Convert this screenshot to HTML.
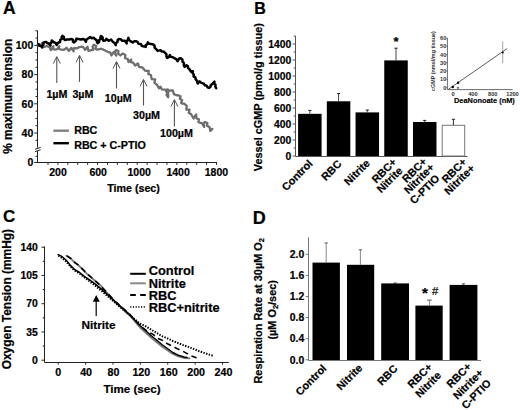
<!DOCTYPE html>
<html><head><meta charset="utf-8"><style>
html,body{margin:0;padding:0;background:#fff;}
svg{display:block;}
text{font-family:"Liberation Sans", sans-serif;stroke:#000;stroke-width:0.22px;}
</style></head><body>
<svg width="520" height="410" viewBox="0 0 520 410" font-family='"Liberation Sans", sans-serif'>
<text x="3.00" y="13.70" font-size="17.5" text-anchor="start" font-weight="bold" fill="#000" >A</text>
<line x1="37.50" y1="30.50" x2="37.50" y2="147.60" stroke="#222" stroke-width="1" />
<line x1="37.50" y1="151.00" x2="37.50" y2="163.00" stroke="#222" stroke-width="1" />
<line x1="35.00" y1="149.30" x2="40.60" y2="147.40" stroke="#222" stroke-width="1" />
<line x1="35.00" y1="151.70" x2="40.60" y2="149.80" stroke="#222" stroke-width="1" />
<line x1="35.50" y1="140.30" x2="37.50" y2="140.30" stroke="#222" stroke-width="1" />
<line x1="34.30" y1="133.00" x2="37.50" y2="133.00" stroke="#222" stroke-width="1" />
<line x1="35.50" y1="125.70" x2="37.50" y2="125.70" stroke="#222" stroke-width="1" />
<line x1="35.50" y1="118.40" x2="37.50" y2="118.40" stroke="#222" stroke-width="1" />
<line x1="35.50" y1="111.10" x2="37.50" y2="111.10" stroke="#222" stroke-width="1" />
<line x1="34.30" y1="103.80" x2="37.50" y2="103.80" stroke="#222" stroke-width="1" />
<line x1="35.50" y1="96.50" x2="37.50" y2="96.50" stroke="#222" stroke-width="1" />
<line x1="35.50" y1="89.20" x2="37.50" y2="89.20" stroke="#222" stroke-width="1" />
<line x1="35.50" y1="81.90" x2="37.50" y2="81.90" stroke="#222" stroke-width="1" />
<line x1="34.30" y1="74.60" x2="37.50" y2="74.60" stroke="#222" stroke-width="1" />
<line x1="35.50" y1="67.30" x2="37.50" y2="67.30" stroke="#222" stroke-width="1" />
<line x1="35.50" y1="60.00" x2="37.50" y2="60.00" stroke="#222" stroke-width="1" />
<line x1="35.50" y1="52.70" x2="37.50" y2="52.70" stroke="#222" stroke-width="1" />
<line x1="34.30" y1="45.40" x2="37.50" y2="45.40" stroke="#222" stroke-width="1" />
<line x1="35.50" y1="38.10" x2="37.50" y2="38.10" stroke="#222" stroke-width="1" />
<line x1="35.50" y1="30.80" x2="37.50" y2="30.80" stroke="#222" stroke-width="1" />
<line x1="35.50" y1="156.30" x2="37.50" y2="156.30" stroke="#222" stroke-width="1" />
<line x1="34.30" y1="162.50" x2="37.50" y2="162.50" stroke="#222" stroke-width="1" />
<text x="33.30" y="49.10" font-size="10.5" text-anchor="end" font-weight="bold" fill="#000" >100</text>
<text x="33.30" y="78.30" font-size="10.5" text-anchor="end" font-weight="bold" fill="#000" >80</text>
<text x="33.30" y="107.50" font-size="10.5" text-anchor="end" font-weight="bold" fill="#000" >60</text>
<text x="33.30" y="136.70" font-size="10.5" text-anchor="end" font-weight="bold" fill="#000" >40</text>
<text x="33.30" y="166.20" font-size="10.5" text-anchor="end" font-weight="bold" fill="#000" >0</text>
<line x1="37.00" y1="162.50" x2="217.00" y2="162.50" stroke="#222" stroke-width="1" />
<line x1="48.01" y1="162.50" x2="48.01" y2="164.80" stroke="#222" stroke-width="1" />
<line x1="57.92" y1="162.50" x2="57.92" y2="164.80" stroke="#222" stroke-width="1" />
<line x1="67.83" y1="162.50" x2="67.83" y2="164.80" stroke="#222" stroke-width="1" />
<line x1="77.74" y1="162.50" x2="77.74" y2="164.80" stroke="#222" stroke-width="1" />
<line x1="87.65" y1="162.50" x2="87.65" y2="164.80" stroke="#222" stroke-width="1" />
<line x1="97.56" y1="162.50" x2="97.56" y2="164.80" stroke="#222" stroke-width="1" />
<line x1="107.47" y1="162.50" x2="107.47" y2="164.80" stroke="#222" stroke-width="1" />
<line x1="117.38" y1="162.50" x2="117.38" y2="164.80" stroke="#222" stroke-width="1" />
<line x1="127.29" y1="162.50" x2="127.29" y2="164.80" stroke="#222" stroke-width="1" />
<line x1="137.20" y1="162.50" x2="137.20" y2="164.80" stroke="#222" stroke-width="1" />
<line x1="147.11" y1="162.50" x2="147.11" y2="164.80" stroke="#222" stroke-width="1" />
<line x1="157.02" y1="162.50" x2="157.02" y2="164.80" stroke="#222" stroke-width="1" />
<line x1="166.93" y1="162.50" x2="166.93" y2="164.80" stroke="#222" stroke-width="1" />
<line x1="176.84" y1="162.50" x2="176.84" y2="164.80" stroke="#222" stroke-width="1" />
<line x1="186.75" y1="162.50" x2="186.75" y2="164.80" stroke="#222" stroke-width="1" />
<line x1="196.66" y1="162.50" x2="196.66" y2="164.80" stroke="#222" stroke-width="1" />
<line x1="206.57" y1="162.50" x2="206.57" y2="164.80" stroke="#222" stroke-width="1" />
<line x1="216.48" y1="162.50" x2="216.48" y2="164.80" stroke="#222" stroke-width="1" />
<text x="58.00" y="176.20" font-size="10.5" text-anchor="middle" font-weight="bold" fill="#000" >200</text>
<text x="98.20" y="176.20" font-size="10.5" text-anchor="middle" font-weight="bold" fill="#000" >600</text>
<text x="139.20" y="176.20" font-size="10.5" text-anchor="middle" font-weight="bold" fill="#000" >1000</text>
<text x="178.10" y="176.20" font-size="10.5" text-anchor="middle" font-weight="bold" fill="#000" >1400</text>
<text x="216.40" y="176.20" font-size="10.5" text-anchor="middle" font-weight="bold" fill="#000" >1800</text>
<text x="107.20" y="192.40" font-size="10.7" text-anchor="start" font-weight="bold" fill="#000" >Time (sec)</text>
<text transform="translate(12.3,153.8) rotate(-90)" font-size="11.9" font-weight="bold">% maximum tension</text>
<polyline points="37.81,44.75 40.54,45.10 42.58,42.76 42.32,45.94 43.86,47.08 46.74,45.98 49.56,47.07 50.77,50.20 53.45,46.21 53.10,48.94 54.36,49.56 57.39,49.09 59.25,46.21 58.90,48.94 60.46,49.37 63.89,49.88 66.53,47.78 68.83,50.92 71.24,47.86 73.65,51.29 73.30,48.56 74.67,48.02 76.80,48.43 79.43,47.02 82.73,46.58 85.03,49.72 87.51,46.74 88.40,50.77 89.47,50.58 93.12,49.96 92.63,46.64 93.76,44.73 96.20,46.00 95.30,48.60 96.37,49.48 98.81,49.31 101.27,48.73 103.11,49.57 105.97,51.03 107.75,51.79 110.40,52.56 111.44,55.44 113.81,51.94 116.28,55.57 115.07,52.33 115.75,50.09 118.40,50.86 118.11,53.67 120.49,55.44 122.70,53.50 125.45,55.00 125.05,58.19 127.70,58.96 128.52,62.00 131.15,59.51 130.80,62.24 133.09,62.69 135.23,65.47 137.94,63.36 139.05,67.01 142.29,67.29 144.93,70.57 148.80,70.99 148.25,73.86 150.82,74.96 151.70,79.05 155.15,79.40 154.45,82.80 156.84,84.58 159.10,88.30 160.43,86.61 161.87,89.43 165.30,89.70 166.40,91.70 168.20,94.45 168.20,97.23 166.47,94.84 168.33,92.56 167.38,89.31 169.40,90.70 172.84,90.46 173.96,94.14 176.60,95.25 178.10,95.20 180.60,96.20 179.84,98.67 182.19,100.17 181.11,102.73 182.20,103.70 184.14,103.58 186.76,105.77 186.32,109.56 189.54,109.69 188.76,112.76 191.20,114.34 193.59,118.48 196.17,114.44 196.39,118.29 198.91,119.36 198.38,122.25 202.23,123.47 204.11,126.90 203.69,123.65 204.90,122.02 207.45,122.98 206.79,125.60 209.61,127.25 210.40,130.90 212.40,128.90" fill="none" stroke="#6e6e6e" stroke-width="2.3" stroke-linejoin="round" stroke-linecap="round" />
<polyline points="38.56,44.09 39.21,45.67 40.89,46.03 42.16,47.47 42.09,45.75 43.46,44.72 43.39,43.00 44.29,42.18 46.06,41.87 47.22,42.98 49.08,43.72 50.48,45.43 50.22,43.70 51.48,42.50 51.75,40.53 53.60,42.07 55.50,42.98 56.77,45.00 57.83,42.95 60.06,41.98 60.12,40.09 61.61,38.93 61.67,37.04 62.44,35.87 63.86,37.07 63.84,38.93 64.73,39.94 67.10,39.59 69.33,39.44 71.45,38.90 72.91,39.83 72.99,41.57 73.77,42.48 75.58,41.17 76.32,38.81 78.53,39.06 80.83,39.44 82.99,38.95 84.76,39.85 85.93,41.72 86.42,39.58 88.00,38.49 90.27,37.11 91.78,38.19 93.67,37.74 95.45,39.40 96.92,40.37 96.98,42.13 97.74,43.13 99.14,41.97 99.10,40.13 100.50,38.97 100.46,37.13 101.13,35.96 102.63,37.37 102.67,39.43 103.56,40.68 105.24,40.42 106.39,38.85 108.60,40.79 111.04,39.48 112.77,41.72 114.58,43.03 115.75,45.19 115.90,43.24 117.45,42.04 117.60,40.09 118.63,39.06 120.72,39.19 122.20,40.79 124.92,40.76 126.68,43.43 126.52,41.44 127.88,39.96 128.43,37.88 128.92,40.02 130.50,41.11 132.82,42.48 134.33,41.17 135.92,41.28 137.63,41.87 138.33,43.66 141.08,44.12 141.67,45.83 143.10,46.30 145.75,46.90 145.82,45.17 147.28,44.23 147.88,42.34 149.07,43.86 150.80,43.90 153.23,44.45 154.64,45.75 154.56,47.65 155.82,48.77 157.70,50.90 160.68,50.14 161.72,51.56 163.43,51.52 165.03,52.74 166.47,54.33 166.43,56.47 167.18,57.96 168.87,57.04 169.85,55.08 170.70,56.77 172.40,57.11 174.78,58.44 176.47,59.36 177.48,61.28 179.17,58.52 181.03,58.36 182.47,59.64 182.43,61.56 183.88,62.87 183.82,65.23 184.61,66.92 186.54,65.28 187.96,66.32 187.94,68.08 189.28,69.02 191.10,71.80 192.88,71.29 192.58,73.11 193.82,74.49 193.58,76.44 195.27,77.36 195.62,79.13 197.08,80.97 197.62,83.53 199.63,81.42 201.28,82.83 203.84,83.58 204.76,85.27 206.64,85.68 207.56,87.37 208.87,87.88 210.47,86.92 210.73,85.08 212.28,84.18 214.48,81.67 214.25,83.50 215.53,84.82 215.30,86.65 216.20,88.10" fill="none" stroke="#000" stroke-width="2.5" stroke-linejoin="round" stroke-linecap="round" />
<line x1="56.80" y1="57.10" x2="56.80" y2="83.10" stroke="#555" stroke-width="1.1" />
<polyline points="53.30,63.60 56.80,56.60 60.30,63.60" fill="none" stroke="#555" stroke-width="1.0" stroke-linejoin="round" stroke-linecap="butt" />
<line x1="79.50" y1="55.90" x2="79.50" y2="81.90" stroke="#555" stroke-width="1.1" />
<polyline points="76.00,62.40 79.50,55.40 83.00,62.40" fill="none" stroke="#555" stroke-width="1.0" stroke-linejoin="round" stroke-linecap="butt" />
<line x1="116.50" y1="62.10" x2="116.50" y2="88.40" stroke="#555" stroke-width="1.1" />
<polyline points="113.00,68.60 116.50,61.60 120.00,68.60" fill="none" stroke="#555" stroke-width="1.0" stroke-linejoin="round" stroke-linecap="butt" />
<line x1="143.50" y1="79.90" x2="143.50" y2="105.50" stroke="#555" stroke-width="1.1" />
<polyline points="140.00,86.40 143.50,79.40 147.00,86.40" fill="none" stroke="#555" stroke-width="1.0" stroke-linejoin="round" stroke-linecap="butt" />
<line x1="174.40" y1="100.10" x2="174.40" y2="126.50" stroke="#555" stroke-width="1.1" />
<polyline points="170.90,106.60 174.40,99.60 177.90,106.60" fill="none" stroke="#555" stroke-width="1.0" stroke-linejoin="round" stroke-linecap="butt" />
<text x="46.40" y="97.60" font-size="10.7" text-anchor="start" font-weight="bold" fill="#000" >1µM</text>
<text x="72.40" y="97.60" font-size="10.7" text-anchor="start" font-weight="bold" fill="#000" >3µM</text>
<text x="104.80" y="102.00" font-size="10.7" text-anchor="start" font-weight="bold" fill="#000" >10µM</text>
<text x="133.00" y="118.80" font-size="10.7" text-anchor="start" font-weight="bold" fill="#000" >30µM</text>
<text x="160.00" y="136.80" font-size="10.7" text-anchor="start" font-weight="bold" fill="#000" >100µM</text>
<line x1="53.40" y1="130.70" x2="68.90" y2="130.70" stroke="#808080" stroke-width="2.4" />
<line x1="53.40" y1="143.20" x2="68.90" y2="143.20" stroke="#000" stroke-width="2.4" />
<text x="74.20" y="134.30" font-size="10.7" text-anchor="start" font-weight="bold" fill="#000" >RBC</text>
<text x="74.20" y="148.50" font-size="10.7" text-anchor="start" font-weight="bold" fill="#000" >RBC + C-PTIO</text>
<text x="254.30" y="13.70" font-size="16.0" text-anchor="start" font-weight="bold" fill="#000" >B</text>
<line x1="295.50" y1="36.00" x2="295.50" y2="156.50" stroke="#555" stroke-width="1" />
<line x1="292.70" y1="156.00" x2="295.50" y2="156.00" stroke="#555" stroke-width="1" />
<line x1="293.70" y1="148.00" x2="295.50" y2="148.00" stroke="#555" stroke-width="1" />
<line x1="292.70" y1="140.00" x2="295.50" y2="140.00" stroke="#555" stroke-width="1" />
<line x1="293.70" y1="132.00" x2="295.50" y2="132.00" stroke="#555" stroke-width="1" />
<line x1="292.70" y1="124.00" x2="295.50" y2="124.00" stroke="#555" stroke-width="1" />
<line x1="293.70" y1="116.00" x2="295.50" y2="116.00" stroke="#555" stroke-width="1" />
<line x1="292.70" y1="108.00" x2="295.50" y2="108.00" stroke="#555" stroke-width="1" />
<line x1="293.70" y1="100.00" x2="295.50" y2="100.00" stroke="#555" stroke-width="1" />
<line x1="292.70" y1="92.00" x2="295.50" y2="92.00" stroke="#555" stroke-width="1" />
<line x1="293.70" y1="84.00" x2="295.50" y2="84.00" stroke="#555" stroke-width="1" />
<line x1="292.70" y1="76.00" x2="295.50" y2="76.00" stroke="#555" stroke-width="1" />
<line x1="293.70" y1="68.00" x2="295.50" y2="68.00" stroke="#555" stroke-width="1" />
<line x1="292.70" y1="60.00" x2="295.50" y2="60.00" stroke="#555" stroke-width="1" />
<line x1="293.70" y1="52.00" x2="295.50" y2="52.00" stroke="#555" stroke-width="1" />
<line x1="292.70" y1="44.00" x2="295.50" y2="44.00" stroke="#555" stroke-width="1" />
<line x1="293.70" y1="36.00" x2="295.50" y2="36.00" stroke="#555" stroke-width="1" />
<text x="291.20" y="159.60" font-size="10.3" text-anchor="end" font-weight="bold" fill="#000" >0</text>
<text x="291.20" y="143.60" font-size="10.3" text-anchor="end" font-weight="bold" fill="#000" >200</text>
<text x="291.20" y="127.60" font-size="10.3" text-anchor="end" font-weight="bold" fill="#000" >400</text>
<text x="291.20" y="111.60" font-size="10.3" text-anchor="end" font-weight="bold" fill="#000" >600</text>
<text x="291.20" y="95.60" font-size="10.3" text-anchor="end" font-weight="bold" fill="#000" >800</text>
<text x="291.20" y="79.60" font-size="10.3" text-anchor="end" font-weight="bold" fill="#000" >1000</text>
<text x="291.20" y="63.60" font-size="10.3" text-anchor="end" font-weight="bold" fill="#000" >1200</text>
<text x="291.20" y="47.60" font-size="10.3" text-anchor="end" font-weight="bold" fill="#000" >1400</text>
<line x1="295.50" y1="156.50" x2="467.60" y2="156.50" stroke="#555" stroke-width="1" />
<text transform="translate(262.3,171.2) rotate(-90)" font-size="10.9" font-weight="bold">Vessel cGMP (pmol/g tissue)</text>
<line x1="309.85" y1="110.40" x2="309.85" y2="113.84" stroke="#444" stroke-width="1.0" />
<line x1="308.25" y1="110.40" x2="311.45" y2="110.40" stroke="#222" stroke-width="1.0" />
<rect x="298.10" y="113.84" width="23.50" height="42.16" fill="#000" stroke="none" stroke-width="0"/>
<line x1="338.57" y1="93.60" x2="338.57" y2="101.28" stroke="#444" stroke-width="1.0" />
<line x1="336.97" y1="93.60" x2="340.17" y2="93.60" stroke="#222" stroke-width="1.0" />
<rect x="326.82" y="101.28" width="23.50" height="54.72" fill="#000" stroke="none" stroke-width="0"/>
<line x1="367.29" y1="110.00" x2="367.29" y2="112.40" stroke="#444" stroke-width="1.0" />
<line x1="365.69" y1="110.00" x2="368.89" y2="110.00" stroke="#222" stroke-width="1.0" />
<rect x="355.54" y="112.40" width="23.50" height="43.60" fill="#000" stroke="none" stroke-width="0"/>
<line x1="396.01" y1="48.20" x2="396.01" y2="60.40" stroke="#444" stroke-width="1.0" />
<line x1="394.41" y1="48.20" x2="397.61" y2="48.20" stroke="#222" stroke-width="1.0" />
<rect x="384.26" y="60.40" width="23.50" height="95.60" fill="#000" stroke="none" stroke-width="0"/>
<line x1="424.73" y1="120.40" x2="424.73" y2="122.00" stroke="#444" stroke-width="1.0" />
<line x1="423.13" y1="120.40" x2="426.33" y2="120.40" stroke="#222" stroke-width="1.0" />
<rect x="412.98" y="122.00" width="23.50" height="34.00" fill="#000" stroke="none" stroke-width="0"/>
<line x1="453.45" y1="119.30" x2="453.45" y2="125.28" stroke="#444" stroke-width="1.0" />
<line x1="451.85" y1="119.30" x2="455.05" y2="119.30" stroke="#222" stroke-width="1.0" />
<rect x="442.20" y="125.28" width="22.50" height="30.72" fill="#fff" stroke="#777" stroke-width="1"/>
<line x1="453.45" y1="119.30" x2="453.45" y2="125.28" stroke="#444" stroke-width="1.0" />
<text x="396.00" y="46.00" font-size="13" text-anchor="middle" font-weight="bold" fill="#000" >*</text>
<text transform="translate(313.35,164.25) rotate(-45)" font-size="10.8" font-weight="bold" text-anchor="end">Control</text>
<text transform="translate(342.20,164.60) rotate(-45)" font-size="10.8" font-weight="bold" text-anchor="end">RBC</text>
<text transform="translate(370.60,163.90) rotate(-45)" font-size="10.8" font-weight="bold" text-anchor="end">Nitrite</text>
<text transform="translate(397.20,162.85) rotate(-45)" font-size="10.8" font-weight="bold" text-anchor="end">RBC+</text>
<text transform="translate(403.20,171.40) rotate(-45)" font-size="10.8" font-weight="bold" text-anchor="end">Nitrite</text>
<text transform="translate(427.50,162.20) rotate(-45)" font-size="10.8" font-weight="bold" text-anchor="end">RBC+</text>
<text transform="translate(435.00,168.10) rotate(-45)" font-size="10.8" font-weight="bold" text-anchor="end">Nitrite+</text>
<text transform="translate(440.25,178.95) rotate(-45)" font-size="10.8" font-weight="bold" text-anchor="end">C-PTIO</text>
<text transform="translate(467.20,162.65) rotate(-45)" font-size="10.8" font-weight="bold" text-anchor="end">RBC+</text>
<text transform="translate(475.35,168.95) rotate(-45)" font-size="10.8" font-weight="bold" text-anchor="end">Nitrite+</text>
<line x1="447.40" y1="37.90" x2="447.40" y2="89.60" stroke="#444" stroke-width="0.8" />
<line x1="447.40" y1="89.60" x2="512.50" y2="89.60" stroke="#444" stroke-width="0.8" />
<line x1="446.20" y1="87.60" x2="447.40" y2="87.60" stroke="#444" stroke-width="0.6" />
<text x="446.30" y="89.60" font-size="5.6" text-anchor="end" font-weight="bold" fill="#333" style="stroke-width:0">0</text>
<line x1="446.20" y1="79.35" x2="447.40" y2="79.35" stroke="#444" stroke-width="0.6" />
<text x="446.30" y="81.35" font-size="5.6" text-anchor="end" font-weight="bold" fill="#333" style="stroke-width:0">10</text>
<line x1="446.20" y1="71.10" x2="447.40" y2="71.10" stroke="#444" stroke-width="0.6" />
<text x="446.30" y="73.10" font-size="5.6" text-anchor="end" font-weight="bold" fill="#333" style="stroke-width:0">20</text>
<line x1="446.20" y1="62.85" x2="447.40" y2="62.85" stroke="#444" stroke-width="0.6" />
<text x="446.30" y="64.85" font-size="5.6" text-anchor="end" font-weight="bold" fill="#333" style="stroke-width:0">30</text>
<line x1="446.20" y1="54.60" x2="447.40" y2="54.60" stroke="#444" stroke-width="0.6" />
<text x="446.30" y="56.60" font-size="5.6" text-anchor="end" font-weight="bold" fill="#333" style="stroke-width:0">40</text>
<line x1="446.20" y1="46.35" x2="447.40" y2="46.35" stroke="#444" stroke-width="0.6" />
<text x="446.30" y="48.35" font-size="5.6" text-anchor="end" font-weight="bold" fill="#333" style="stroke-width:0">50</text>
<line x1="446.20" y1="38.10" x2="447.40" y2="38.10" stroke="#444" stroke-width="0.6" />
<text x="446.30" y="40.10" font-size="5.6" text-anchor="end" font-weight="bold" fill="#333" style="stroke-width:0">60</text>
<line x1="452.80" y1="89.60" x2="452.80" y2="90.40" stroke="#666" stroke-width="0.5" />
<text x="453.10" y="95.50" font-size="5.6" text-anchor="middle" font-weight="bold" fill="#333" style="stroke-width:0">0</text>
<line x1="472.60" y1="89.60" x2="472.60" y2="90.40" stroke="#666" stroke-width="0.5" />
<text x="472.90" y="95.50" font-size="5.6" text-anchor="middle" font-weight="bold" fill="#333" style="stroke-width:0">400</text>
<line x1="492.40" y1="89.60" x2="492.40" y2="90.40" stroke="#666" stroke-width="0.5" />
<text x="492.70" y="95.50" font-size="5.6" text-anchor="middle" font-weight="bold" fill="#333" style="stroke-width:0">800</text>
<line x1="512.20" y1="89.60" x2="512.20" y2="90.40" stroke="#666" stroke-width="0.5" />
<text x="512.50" y="95.50" font-size="5.6" text-anchor="middle" font-weight="bold" fill="#333" style="stroke-width:0">1200</text>
<text x="454.00" y="103.30" font-size="7.4" text-anchor="start" font-weight="bold" fill="#000" style="stroke-width:0.15px">DeaNonoate (nM)</text>
<text transform="translate(435.2,91.0) rotate(-90)" font-size="5.4" font-weight="bold" fill="#333" style="stroke-width:0">cGMP (nmol/mg tissue)</text>
<line x1="448.40" y1="89.30" x2="507.10" y2="48.60" stroke="#333" stroke-width="0.8" />
<line x1="502.70" y1="41.40" x2="502.70" y2="63.30" stroke="#666" stroke-width="0.6" />
<circle cx="452.8" cy="87.0" r="1.2" fill="#000"/>
<circle cx="458.1" cy="82.8" r="1.2" fill="#000"/>
<circle cx="502.7" cy="52.4" r="1.0" fill="#000"/>
<text x="457.90" y="88.50" font-size="4" text-anchor="middle" font-weight="normal" fill="#777" >×</text>
<text x="3.00" y="222.00" font-size="17.0" text-anchor="start" font-weight="bold" fill="#000" >C</text>
<line x1="44.50" y1="246.50" x2="44.50" y2="362.50" stroke="#222" stroke-width="1" />
<line x1="41.50" y1="360.20" x2="44.50" y2="360.20" stroke="#222" stroke-width="1" />
<line x1="42.70" y1="346.08" x2="44.50" y2="346.08" stroke="#222" stroke-width="1" />
<line x1="41.50" y1="331.95" x2="44.50" y2="331.95" stroke="#222" stroke-width="1" />
<line x1="42.70" y1="317.83" x2="44.50" y2="317.83" stroke="#222" stroke-width="1" />
<line x1="41.50" y1="303.71" x2="44.50" y2="303.71" stroke="#222" stroke-width="1" />
<line x1="42.70" y1="289.59" x2="44.50" y2="289.59" stroke="#222" stroke-width="1" />
<line x1="41.50" y1="275.46" x2="44.50" y2="275.46" stroke="#222" stroke-width="1" />
<line x1="42.70" y1="261.34" x2="44.50" y2="261.34" stroke="#222" stroke-width="1" />
<line x1="41.50" y1="247.22" x2="44.50" y2="247.22" stroke="#222" stroke-width="1" />
<text x="37.80" y="363.90" font-size="10.4" text-anchor="end" font-weight="bold" fill="#000" >0</text>
<text x="37.80" y="335.65" font-size="10.4" text-anchor="end" font-weight="bold" fill="#000" >35</text>
<text x="37.80" y="307.41" font-size="10.4" text-anchor="end" font-weight="bold" fill="#000" >70</text>
<text x="37.80" y="279.16" font-size="10.4" text-anchor="end" font-weight="bold" fill="#000" >105</text>
<text x="37.80" y="250.92" font-size="10.4" text-anchor="end" font-weight="bold" fill="#000" >140</text>
<line x1="44.50" y1="362.50" x2="228.80" y2="362.50" stroke="#222" stroke-width="1" />
<line x1="58.20" y1="362.50" x2="58.20" y2="364.60" stroke="#222" stroke-width="1" />
<text x="58.20" y="376.20" font-size="10.7" text-anchor="middle" font-weight="bold" fill="#000" >0</text>
<line x1="85.58" y1="362.50" x2="85.58" y2="364.60" stroke="#222" stroke-width="1" />
<text x="86.08" y="376.20" font-size="10.7" text-anchor="middle" font-weight="bold" fill="#000" >40</text>
<line x1="112.97" y1="362.50" x2="112.97" y2="364.60" stroke="#222" stroke-width="1" />
<text x="113.47" y="376.20" font-size="10.7" text-anchor="middle" font-weight="bold" fill="#000" >80</text>
<line x1="140.35" y1="362.50" x2="140.35" y2="364.60" stroke="#222" stroke-width="1" />
<text x="141.35" y="376.20" font-size="10.7" text-anchor="middle" font-weight="bold" fill="#000" >120</text>
<line x1="167.74" y1="362.50" x2="167.74" y2="364.60" stroke="#222" stroke-width="1" />
<text x="168.74" y="376.20" font-size="10.7" text-anchor="middle" font-weight="bold" fill="#000" >160</text>
<line x1="195.12" y1="362.50" x2="195.12" y2="364.60" stroke="#222" stroke-width="1" />
<text x="196.12" y="376.20" font-size="10.7" text-anchor="middle" font-weight="bold" fill="#000" >200</text>
<line x1="222.50" y1="362.50" x2="222.50" y2="364.60" stroke="#222" stroke-width="1" />
<text x="223.50" y="376.20" font-size="10.7" text-anchor="middle" font-weight="bold" fill="#000" >240</text>
<text x="103.40" y="392.60" font-size="11.6" text-anchor="start" font-weight="bold" fill="#000" >Time (sec)</text>
<text transform="translate(11.2,369.3) rotate(-90)" font-size="11.95" font-weight="bold">Oxygen Tension (mmHg)</text>
<polyline points="66.30,255.60 70.40,258.20 74.50,262.30 78.60,265.40 82.70,269.50 86.80,273.60 90.90,277.20 95.00,280.70 101.10,285.90 114.60,301.50 129.30,315.00 140.00,327.50 151.00,337.50 161.90,346.50 172.90,354.00 178.40,356.50 183.90,358.00 189.60,358.40" fill="none" stroke="#7a7a7a" stroke-width="1.8" stroke-linejoin="round" stroke-linecap="round" />
<polyline points="58.10,254.60 62.20,256.70 66.30,260.20 70.40,265.40 74.50,269.50 79.60,272.50 84.70,276.60 89.90,280.20 95.00,283.80 101.10,288.90 114.60,301.10 129.30,314.30 140.00,325.50 151.00,335.50 161.90,344.50 172.90,352.50 178.40,355.30 183.90,357.00 187.00,357.60" fill="none" stroke="#000" stroke-width="1.5" stroke-linejoin="round" stroke-linecap="round" />
<polyline points="66.80,255.80 70.90,258.50 75.00,262.60 79.10,265.70 83.20,269.80 87.30,273.90 91.40,277.50 95.50,281.00 101.10,286.50 114.60,300.80 129.30,313.80 140.00,325.70 148.80,332.30 153.20,334.40 157.50,338.30 163.00,340.50 167.40,343.80 172.90,346.50 177.30,348.70 182.20,350.90 187.20,353.60 191.50,356.00 196.30,357.70 200.70,358.10" fill="none" stroke="#000" stroke-width="1.6" stroke-linejoin="round" stroke-linecap="butt" stroke-dasharray="5.5,4"/>
<polyline points="58.50,255.50 66.30,261.50 70.40,266.50 74.50,270.50 79.60,273.50 84.70,277.60 89.90,281.50 95.00,285.50 101.10,290.50 114.60,302.20 129.30,314.80 140.00,323.60 145.50,326.20 151.00,329.50 156.40,332.80 161.90,336.10 167.40,338.30 172.90,341.00 178.40,343.20 183.90,345.40 189.60,347.30 199.20,351.20 208.80,354.50 213.70,356.00" fill="none" stroke="#000" stroke-width="2.0" stroke-linejoin="round" stroke-linecap="butt" stroke-dasharray="1.4,1.4"/>
<line x1="96.20" y1="300.00" x2="96.20" y2="315.90" stroke="#000" stroke-width="1.2" />
<polygon points="96.2,295.1 92.8,301.8 99.8,301.8" fill="#000"/>
<text x="81.50" y="328.60" font-size="11.8" text-anchor="start" font-weight="bold" fill="#000" >Nitrite</text>
<line x1="130.20" y1="273.80" x2="145.80" y2="273.80" stroke="#000" stroke-width="2.0" />
<line x1="130.20" y1="283.30" x2="145.80" y2="283.30" stroke="#888" stroke-width="2.0" />
<line x1="130.20" y1="294.90" x2="145.80" y2="294.90" stroke="#000" stroke-width="2.0" stroke-dasharray="5.6,4.4"/>
<line x1="130.20" y1="307.00" x2="145.80" y2="307.00" stroke="#000" stroke-width="1.4" stroke-dasharray="1.2,1.5"/>
<text x="148.80" y="275.20" font-size="12.8" text-anchor="start" font-weight="bold" fill="#000" >Control</text>
<text x="148.80" y="287.50" font-size="12.8" text-anchor="start" font-weight="bold" fill="#000" >Nitrite</text>
<text x="148.80" y="299.80" font-size="12.8" text-anchor="start" font-weight="bold" fill="#000" >RBC</text>
<text x="148.80" y="311.90" font-size="12.8" text-anchor="start" font-weight="bold" fill="#000" >RBC+nitrite</text>
<text x="252.80" y="223.60" font-size="18" text-anchor="start" font-weight="bold" fill="#000" >D</text>
<line x1="308.50" y1="237.30" x2="308.50" y2="360.50" stroke="#777" stroke-width="1" />
<line x1="305.70" y1="359.80" x2="308.50" y2="359.80" stroke="#777" stroke-width="1" />
<text x="304.20" y="363.50" font-size="10.4" text-anchor="end" font-weight="bold" fill="#000" >0.0</text>
<line x1="305.70" y1="338.70" x2="308.50" y2="338.70" stroke="#777" stroke-width="1" />
<text x="304.20" y="342.40" font-size="10.4" text-anchor="end" font-weight="bold" fill="#000" >0.4</text>
<line x1="305.70" y1="317.60" x2="308.50" y2="317.60" stroke="#777" stroke-width="1" />
<text x="304.20" y="321.30" font-size="10.4" text-anchor="end" font-weight="bold" fill="#000" >0.8</text>
<line x1="305.70" y1="296.50" x2="308.50" y2="296.50" stroke="#777" stroke-width="1" />
<text x="304.20" y="300.20" font-size="10.4" text-anchor="end" font-weight="bold" fill="#000" >1.2</text>
<line x1="305.70" y1="275.40" x2="308.50" y2="275.40" stroke="#777" stroke-width="1" />
<text x="304.20" y="279.10" font-size="10.4" text-anchor="end" font-weight="bold" fill="#000" >1.6</text>
<line x1="305.70" y1="254.30" x2="308.50" y2="254.30" stroke="#777" stroke-width="1" />
<text x="304.20" y="258.00" font-size="10.4" text-anchor="end" font-weight="bold" fill="#000" >2.0</text>
<line x1="308.50" y1="360.50" x2="481.00" y2="360.50" stroke="#777" stroke-width="1" />
<text transform="translate(262.3,383.5) rotate(-90)" font-size="10.9" font-weight="bold">Respiration Rate at 30µM O<tspan font-size="7.5" dy="2">2</tspan></text>
<text transform="translate(276,339.6) rotate(-90)" font-size="10.9" font-weight="bold">(µM O<tspan font-size="7.5" dy="2">2</tspan><tspan dy="-2">/sec)</tspan></text>
<line x1="326.20" y1="243.00" x2="326.20" y2="262.60" stroke="#888" stroke-width="1.0" />
<line x1="324.60" y1="243.00" x2="327.80" y2="243.00" stroke="#555" stroke-width="1.0" />
<rect x="312.50" y="262.60" width="27.40" height="97.40" fill="#000" stroke="none" stroke-width="0"/>
<line x1="360.40" y1="249.80" x2="360.40" y2="264.80" stroke="#888" stroke-width="1.0" />
<line x1="358.80" y1="249.80" x2="362.00" y2="249.80" stroke="#555" stroke-width="1.0" />
<rect x="347.00" y="264.80" width="27.20" height="95.20" fill="#000" stroke="none" stroke-width="0"/>
<line x1="395.10" y1="283.00" x2="395.10" y2="283.40" stroke="#888" stroke-width="1.0" />
<line x1="393.50" y1="283.00" x2="396.70" y2="283.00" stroke="#555" stroke-width="1.0" />
<rect x="381.20" y="283.40" width="27.80" height="76.60" fill="#000" stroke="none" stroke-width="0"/>
<line x1="429.40" y1="300.10" x2="429.40" y2="305.60" stroke="#888" stroke-width="1.0" />
<line x1="427.10" y1="300.10" x2="431.70" y2="300.10" stroke="#555" stroke-width="1.0" />
<rect x="415.40" y="305.60" width="27.30" height="54.40" fill="#000" stroke="none" stroke-width="0"/>
<line x1="463.50" y1="283.80" x2="463.50" y2="284.90" stroke="#888" stroke-width="1.0" />
<line x1="461.90" y1="283.80" x2="465.10" y2="283.80" stroke="#555" stroke-width="1.0" />
<rect x="449.60" y="284.90" width="27.80" height="75.10" fill="#000" stroke="none" stroke-width="0"/>
<text x="425.00" y="297.70" font-size="15" text-anchor="middle" font-weight="bold" fill="#000" >*</text>
<text x="435.20" y="294.60" font-size="11.2" text-anchor="middle" font-weight="normal" fill="#000" >#</text>
<text transform="translate(327.25,369.00) rotate(-45)" font-size="10.8" font-weight="bold" text-anchor="end">Control</text>
<text transform="translate(363.10,368.65) rotate(-45)" font-size="10.8" font-weight="bold" text-anchor="end">Nitrite</text>
<text transform="translate(398.25,369.35) rotate(-45)" font-size="10.8" font-weight="bold" text-anchor="end">RBC</text>
<text transform="translate(433.00,367.75) rotate(-45)" font-size="10.8" font-weight="bold" text-anchor="end">RBC+</text>
<text transform="translate(441.85,376.10) rotate(-45)" font-size="10.8" font-weight="bold" text-anchor="end">Nitrite</text>
<text transform="translate(472.00,367.40) rotate(-45)" font-size="10.8" font-weight="bold" text-anchor="end">RBC+</text>
<text transform="translate(483.90,373.55) rotate(-45)" font-size="10.8" font-weight="bold" text-anchor="end">Nitrite+</text>
<text transform="translate(491.80,383.80) rotate(-45)" font-size="10.8" font-weight="bold" text-anchor="end">C-PTIO</text>
</svg>
</body></html>
